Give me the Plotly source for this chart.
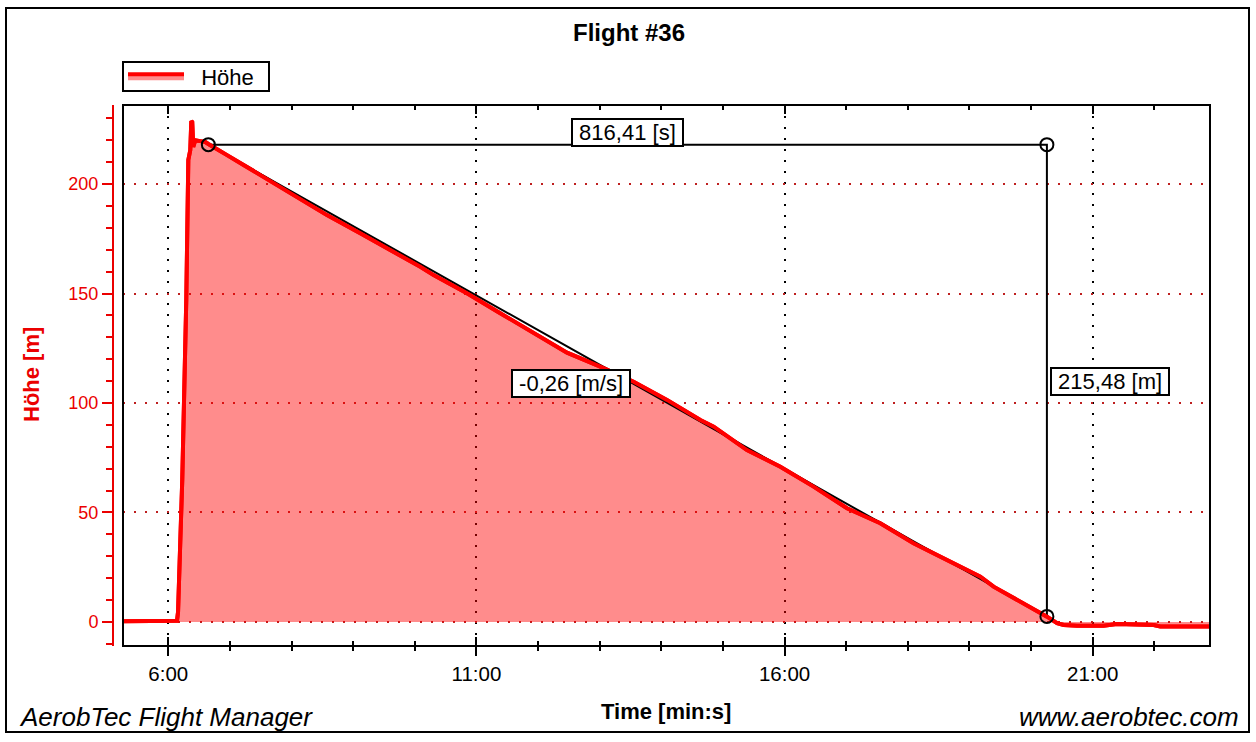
import plotly.graph_objects as go

W, H = 1256, 742

# ---------------- data ----------------
time_s = [316, 340, 366, 368.5, 369.5, 371, 372.6, 373.6, 375.5, 377.5, 379.5, 381.4,
          382.4, 383.3, 384.3, 386.3, 391, 396, 399,
          400.9, 417.2, 433.3, 449.6, 465.8, 482.0, 498.3, 514.5, 546.9, 579.4,
          605.4, 618.3, 650.8, 683.2, 715.7, 748.2, 780.6, 813.0, 845.5, 878.0,
          891.0, 923.4, 955.9, 988.3, 1020.8, 1053.2, 1085.6, 1118.2, 1150.6,
          1163.5, 1196.0, 1215.5, 1225.3, 1231.7, 1244.7, 1270.6, 1283.7, 1319.3,
          1325.8, 1374.5]
hoehe_m = [0.3, 0.3, 0.3, 0.5, 4.6, 25, 49, 65, 105, 147, 211, 215.5,
           228.8, 228.3, 217, 220, 219.6, 219.2, 218.3,
           217.8, 213.2, 208.7, 204.1, 199.5, 195.0, 190.4, 185.8, 177.5, 169.1,
           162.2, 158.4, 150.1, 141.0, 131.8, 123.0, 116.6, 109.7, 101.4, 92.2,
           89.2, 78.5, 70.9, 61.8, 51.9, 45.1, 35.9, 28.3, 20.7,
           16.1, 7.8, 2.4, -0.6, -1.4, -1.7, -1.7, -1.0, -1.4,
           -2.1, -2.1]

# measurement (glide) annotation
t_start = 399.0
h_start = 218.0
delta_t = 816.41
delta_h = 215.48
rate = -0.26
t_end = t_start + delta_t
h_end = h_start - delta_h

x_tick_vals = [360, 660, 960, 1260]
x_tick_text = ["6:00", "11:00", "16:00", "21:00"]
x_minor_vals = list(range(300, 1380, 60))
y_tick_vals = [0, 50, 100, 150, 200]

def de(v):
    return f"{v:.2f}".replace(".", ",")

lbl_t = de(delta_t) + " [s]"
lbl_h = de(delta_h) + " [m]"
lbl_r = de(rate) + " [m/s]"

# ---------------- layout geometry (px) ----------------
X0, X1 = 123, 1210
Y0, Y1 = 105, 646
XR = [315.9, 1374.2]
YR = [-11.0, 236.1]

FONT = "Liberation Sans, Arial, sans-serif"
RED = "#FF0000"
AXRED = "rgb(235,0,0)"
NB = "\u00a0"

fig = go.Figure()

fig.add_trace(go.Scatter(
    x=time_s, y=hoehe_m, mode="lines", name=NB + NB + "Höhe",
    fill="tozeroy", fillcolor="rgba(255,0,0,0.45)",
    line=dict(color=RED, width=4), hoverinfo="skip"))

fig.add_trace(go.Scatter(
    x=[t_start, t_end, t_end, t_start], y=[h_start, h_start, h_end, h_start],
    mode="lines", line=dict(color="black", width=2), showlegend=False,
    hoverinfo="skip"))

fig.add_trace(go.Scatter(
    x=time_s, y=hoehe_m, mode="lines", line=dict(color=RED, width=4),
    showlegend=False, hoverinfo="skip"))

fig.add_trace(go.Scatter(
    x=[t_start, t_end, t_end], y=[h_start, h_start, h_end], xaxis="x2",
    mode="markers", marker=dict(symbol="circle-open", size=13,
                                color="black", line=dict(width=2, color="black")),
    showlegend=False, hoverinfo="skip"))

fig.update_layout(
    width=W, height=H, margin=dict(l=0, r=0, t=0, b=0),
    paper_bgcolor="white", plot_bgcolor="white",
    font=dict(family=FONT, color="black", size=20),
    showlegend=True,
    legend=dict(x=X0 / W, y=1 - 76.5 / H, xanchor="left", yanchor="middle",
                borderwidth=0, bgcolor="rgba(0,0,0,0)",
                font=dict(size=22, family=FONT), itemwidth=56,
                tracegroupgap=0),
    xaxis=dict(domain=[X0 / W, X1 / W], range=XR, anchor="y",
               tickmode="array", tickvals=x_tick_vals, ticktext=x_tick_text,
               showticklabels=False, ticks="inside", ticklen=9, tickwidth=2,
               tickcolor="black", mirror="ticks", showline=False,
               showgrid=True, gridcolor="black", gridwidth=1.5,
               griddash="2px,9px", zeroline=False,
               minor=dict(tickmode="array", tickvals=x_minor_vals,
                          ticks="inside", ticklen=5, tickwidth=2,
                          tickcolor="black", showgrid=False)),
    xaxis2=dict(overlaying="x", anchor="y", range=XR,
                tickmode="array", tickvals=x_tick_vals, ticktext=x_tick_text,
                ticks="outside", ticklen=9, tickwidth=2, tickcolor="black",
                tickfont=dict(size=20.5, family=FONT, color="black"),
                showline=False, showgrid=False, zeroline=False,
                minor=dict(tickmode="array", tickvals=x_minor_vals,
                           ticks="outside", ticklen=4, tickwidth=2,
                           tickcolor="black", showgrid=False)),
    yaxis=dict(domain=[1 - Y1 / H, 1 - Y0 / H], range=YR, anchor="free",
               position=113 / W, showline=True, linecolor=AXRED, linewidth=2,
               tickmode="array", tickvals=y_tick_vals,
               ticks="outside", ticklen=10, tickwidth=2, tickcolor=AXRED,
               tickfont=dict(size=18, family=FONT, color=AXRED),
               showgrid=True, gridcolor="rgb(190,30,30)", gridwidth=1.5,
               griddash="2px,9px", zeroline=False,
               minor=dict(dtick=10, ticks="outside", ticklen=6, tickwidth=2,
                          tickcolor=AXRED, showgrid=False)),
)

# frames
fig.add_shape(type="rect", xref="paper", yref="paper",
              x0=6 / W, x1=1249 / W, y0=1 - 732 / H, y1=1 - 8 / H,
              line=dict(color="black", width=2), layer="below")
fig.add_shape(type="rect", xref="x domain", yref="y domain",
              x0=0, x1=1, y0=0, y1=1, line=dict(color="black", width=2),
              layer="above")
# legend box
fig.add_shape(type="rect", xref="paper", yref="paper",
              x0=X0 / W, x1=269 / W, y0=1 - 91 / H, y1=1 - 62 / H,
              line=dict(color="black", width=2), fillcolor="white",
              layer="below")

# measurement labels
box = dict(bordercolor="black", borderwidth=2, bgcolor="white", borderpad=0,
           font=dict(size=22, family=FONT, color="black"), showarrow=False)
fig.add_annotation(x=(t_start + t_end) / 2, y=223.7, text=NB + lbl_t + NB, **box)
fig.add_annotation(x=751.9, y=108.9, text=NB + lbl_r + NB, **box)
fig.add_annotation(x=t_end + 3, y=109.8, xanchor="left", text=NB + lbl_h + NB, **box)

# titles & footer
common = dict(xref="paper", yref="paper", showarrow=False, yanchor="middle")
fig.add_annotation(x=629 / W, y=1 - 33 / H, xanchor="center",
                   text="<b>Flight #36</b>",
                   font=dict(size=24, family=FONT, color="black"), **common)
fig.add_annotation(x=666 / W, y=1 - 711 / H, xanchor="center",
                   text="<b>Time [min:s]</b>",
                   font=dict(size=22, family=FONT, color="black"), **common)
fig.add_annotation(x=31 / W, y=1 - 375 / H, xanchor="center",
                   text="<b>Höhe [m]</b>", textangle=-90,
                   font=dict(size=22, family=FONT, color=AXRED), **common)
fig.add_annotation(x=17 / W, y=1 - 717 / H, xanchor="left",
                   text="<i>AerobTec Flight Manager</i>",
                   font=dict(size=26, family=FONT, color="black"), **common)
fig.add_annotation(x=1241 / W, y=1 - 717 / H, xanchor="right",
                   text="<i>www.aerobtec.com</i>",
                   font=dict(size=26, family=FONT, color="black"), **common)

fig.write_html("out.html")
